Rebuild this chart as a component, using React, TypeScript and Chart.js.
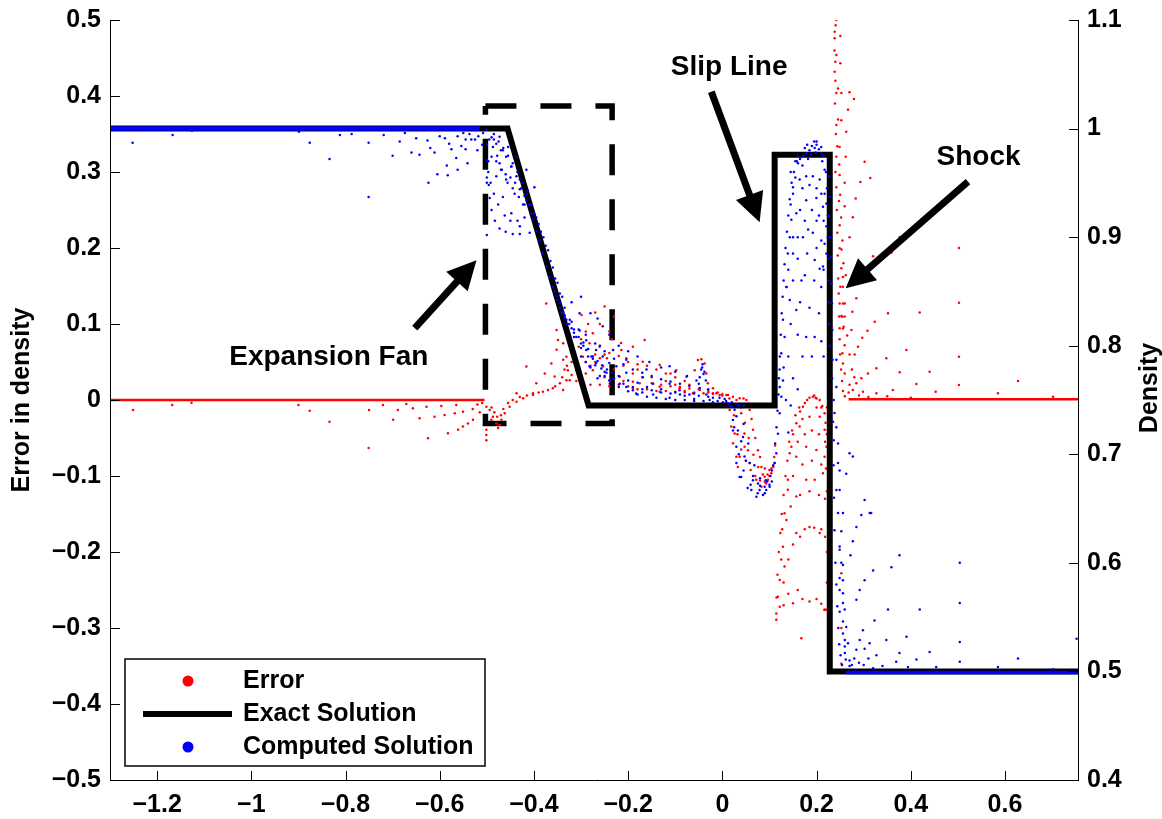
import React, { useEffect, useRef } from "react";
import { Chart, registerables } from "chart.js";

Chart.register(...registerables);

type P = [number, number];

// ---------- axes ----------
const X_MIN = -1.3;
const X_MAX = 0.755;
const ERROR_MIN = -0.5;
const ERROR_MAX = 0.5;
const DENSITY_MIN = 0.4;
const DENSITY_MAX = 1.1;
const xTicks = [-1.2, -1, -0.8, -0.6, -0.4, -0.2, 0, 0.2, 0.4, 0.6];
const errorTicks = [-0.5, -0.4, -0.3, -0.2, -0.1, 0, 0.1, 0.2, 0.3, 0.4, 0.5];
const densityTicks = [0.4, 0.5, 0.6, 0.7, 0.8, 0.9, 1, 1.1];

const legendLabels = ["Error", "Exact Solution", "Computed Solution"];
const errorAxisTitle = "Error in density";
const densityAxisTitle = "Density";

// ---------- exact solution (density axis) ----------
const exactSolution: P[] = [
  [-1.3, 1.0], [-0.456, 1.0], [-0.284, 0.745], [0.111, 0.745],
  [0.111, 0.976], [0.228, 0.976], [0.228, 0.5], [0.755, 0.5],
];

// ---------- computed solution (density axis) ----------
const computedLeftState: P[] = [[-1.3, 1.0], [-0.515, 1.0]];
const computedRightState: P[] = [[0.262, 0.499], [0.755, 0.499]];

const computedHeadFan: P[] = [
  [-1.252, 0.987], [-1.167, 0.994], [-1.126, 0.998], [-0.899, 0.997], [-0.876, 0.987],
  [-0.834, 0.972], [-0.812, 0.994], [-0.787, 0.995], [-0.751, 0.937], [-0.751, 0.987],
  [-0.719, 0.994], [-0.700, 0.975], [-0.685, 0.988], [-0.674, 0.996], [-0.660, 0.978],
  [-0.650, 0.991], [-0.643, 0.976], [-0.626, 0.989], [-0.624, 0.950], [-0.620, 0.982],
  [-0.611, 0.978], [-0.605, 0.958], [-0.600, 0.993], [-0.589, 0.991], [-0.585, 0.966],
  [-0.583, 0.957], [-0.580, 0.986], [-0.575, 0.981], [-0.565, 0.973], [-0.562, 0.962],
  [-0.562, 0.993], [-0.554, 0.984], [-0.550, 0.996], [-0.545, 0.981], [-0.545, 0.990],
  [-0.541, 0.968], [-0.537, 0.995], [-0.533, 0.990], [-0.525, 0.990], [-0.520, 0.980],
  [-0.518, 0.993], [-0.510, 0.985], [-0.508, 0.996], [-0.500, 0.902], [-0.500, 0.950],
  [-0.500, 0.955], [-0.500, 0.971], [-0.500, 0.985],
];

const computedRarefaction: P[] = [
  [-0.501, 0.999], [-0.490, 0.992], [-0.480, 0.986], [-0.470, 0.980], [-0.459, 0.974],
  [-0.448, 0.965], [-0.437, 0.956], [-0.427, 0.945], [-0.416, 0.934], [-0.402, 0.916],
  [-0.395, 0.906], [-0.388, 0.897], [-0.381, 0.885], [-0.374, 0.873], [-0.367, 0.863],
  [-0.360, 0.854], [-0.352, 0.846], [-0.345, 0.839], [-0.338, 0.831], [-0.331, 0.824],
  [-0.320, 0.816], [-0.310, 0.808], [-0.300, 0.802], [-0.289, 0.796], [-0.278, 0.790],
  [-0.268, 0.784], [-0.257, 0.779], [-0.246, 0.775], [-0.232, 0.770], [-0.218, 0.765],
  [-0.204, 0.762], [-0.190, 0.759], [-0.170, 0.757], [-0.147, 0.755],
  [-0.490, 0.974], [-0.480, 0.956], [-0.466, 0.937], [-0.448, 0.922], [-0.430, 0.910], [-0.409, 0.904],
  [-0.487, 0.983], [-0.473, 0.968], [-0.459, 0.953], [-0.441, 0.940], [-0.423, 0.930], [-0.406, 0.922],
  [-0.466, 0.980], [-0.448, 0.965], [-0.430, 0.953], [-0.413, 0.943],
  [-0.473, 0.9925], [-0.455, 0.983], [-0.437, 0.974], [-0.416, 0.962], [-0.399, 0.946],
  [-0.497, 0.970], [-0.497, 0.960], [-0.496, 0.948], [-0.494, 0.936], [-0.490, 0.925],
  [-0.483, 0.915], [-0.473, 0.908], [-0.460, 0.905], [-0.445, 0.903], [-0.430, 0.903],
  [-0.495, 0.990], [-0.485, 0.990], [-0.478, 0.975], [-0.468, 0.962], [-0.456, 0.950],
  [-0.445, 0.945], [-0.432, 0.937], [-0.420, 0.930], [-0.492, 0.950], [-0.485, 0.940],
  [-0.476, 0.930], [-0.462, 0.920], [-0.450, 0.915], [-0.435, 0.915], [-0.420, 0.918],
  [-0.485, 0.995], [-0.475, 0.988], [-0.465, 0.982], [-0.455, 0.975], [-0.445, 0.968],
  [-0.435, 0.960], [-0.425, 0.950], [-0.415, 0.940], [-0.405, 0.930], [-0.395, 0.918],
  [-0.385, 0.905], [-0.375, 0.892], [-0.365, 0.878], [-0.355, 0.862], [-0.345, 0.848],
  [-0.335, 0.835], [-0.480, 0.970], [-0.470, 0.962], [-0.460, 0.958], [-0.450, 0.955],
  [-0.440, 0.950], [-0.430, 0.944], [-0.420, 0.938], [-0.410, 0.930], [-0.400, 0.922],
  [-0.390, 0.912], [-0.380, 0.900], [-0.370, 0.888], [-0.360, 0.872], [-0.350, 0.858],
  [-0.340, 0.845], [-0.355, 0.850], [-0.350, 0.842], [-0.345, 0.835], [-0.340, 0.830],
  [-0.335, 0.826], [-0.325, 0.820], [-0.315, 0.815], [-0.305, 0.808], [-0.295, 0.803],
  [-0.285, 0.797], [-0.275, 0.790], [-0.265, 0.786], [-0.255, 0.782], [-0.245, 0.778],
  [-0.235, 0.775],
];

const computedPlateauCloud: P[] = [
  [-0.324, 0.824], [-0.289, 0.805], [-0.254, 0.790], [-0.204, 0.775], [-0.147, 0.765],
  [-0.091, 0.759], [-0.034, 0.755], [-0.006, 0.752],
  [-0.303, 0.814], [-0.268, 0.796], [-0.225, 0.781], [-0.169, 0.771], [-0.112, 0.765], [-0.048, 0.761],
  [-0.282, 0.781], [-0.239, 0.765], [-0.183, 0.756], [-0.112, 0.752], [-0.060, 0.751],
  [-0.027, 0.750], [0.001, 0.748],
  [-0.303, 0.830], [-0.254, 0.818], [-0.232, 0.796], [-0.204, 0.787], [-0.161, 0.778],
  [-0.112, 0.781], [-0.048, 0.771], [-0.043, 0.780], [-0.040, 0.774],
  [-0.315, 0.812], [-0.295, 0.800], [-0.275, 0.788], [-0.260, 0.800], [-0.240, 0.784],
  [-0.220, 0.772], [-0.200, 0.768], [-0.180, 0.766], [-0.160, 0.762], [-0.130, 0.760],
  [-0.100, 0.757], [-0.080, 0.754], [-0.060, 0.756], [-0.020, 0.752], [-0.010, 0.749],
  [0.005, 0.751], [-0.290, 0.785], [-0.265, 0.770], [-0.250, 0.772],
  [-0.335, 0.828], [-0.320, 0.822], [-0.305, 0.815], [-0.290, 0.810], [-0.270, 0.802],
  [-0.250, 0.795], [-0.230, 0.788], [-0.210, 0.783], [-0.190, 0.778], [-0.170, 0.775],
  [-0.150, 0.772], [-0.130, 0.769], [-0.110, 0.767], [-0.090, 0.765], [-0.070, 0.763],
  [-0.330, 0.820], [-0.315, 0.808], [-0.300, 0.798], [-0.285, 0.790], [-0.270, 0.782],
  [-0.250, 0.776], [-0.230, 0.770], [-0.210, 0.765], [-0.190, 0.762], [-0.170, 0.760],
  [-0.150, 0.759], [-0.130, 0.757], [-0.110, 0.756], [-0.090, 0.755], [-0.070, 0.755],
  [-0.050, 0.754], [-0.030, 0.753],
  [-0.300, 0.790], [-0.280, 0.780], [-0.260, 0.772], [-0.240, 0.768], [-0.220, 0.762],
  [-0.200, 0.758], [-0.180, 0.755], [-0.160, 0.753], [-0.140, 0.752], [-0.120, 0.751],
  [-0.100, 0.750], [-0.080, 0.750], [-0.060, 0.749], [-0.040, 0.749], [-0.020, 0.748],
  [-0.320, 0.840], [-0.300, 0.845], [-0.280, 0.830], [-0.265, 0.825], [-0.240, 0.810],
  [-0.220, 0.800], [-0.200, 0.795], [-0.180, 0.790], [-0.155, 0.785], [-0.130, 0.780],
  [-0.100, 0.776], [-0.075, 0.772], [-0.055, 0.768],
  [-0.050, 0.765], [-0.045, 0.778], [-0.042, 0.783], [-0.038, 0.776], [-0.035, 0.768], [-0.030, 0.760],
];

const computedContact: P[] = [
  [0.008, 0.749], [0.030, 0.746], [0.045, 0.745],
  [0.012, 0.747], [0.0225, 0.7316], [0.0297, 0.707], [0.0367, 0.679], [0.0537, 0.669],
  [0.0722, 0.661], [0.0862, 0.6625], [0.1004, 0.670], [0.111, 0.692], [0.118, 0.719],
  [0.1217, 0.7377], [0.1253, 0.753], [0.1287, 0.768],
  [0.019, 0.744], [0.033, 0.722], [0.047, 0.698], [0.065, 0.676], [0.079, 0.667], [0.093, 0.667],
  [0.026, 0.741], [0.044, 0.716], [0.058, 0.692], [0.0756, 0.673], [0.0898, 0.670],
  [0.0225, 0.722], [0.0297, 0.692], [0.040, 0.679], [0.0616, 0.667],
  [0.015, 0.745], [0.025, 0.725], [0.035, 0.700], [0.045, 0.685], [0.060, 0.672],
  [0.075, 0.664], [0.090, 0.664], [0.100, 0.672],
  [0.020, 0.748], [0.030, 0.735], [0.040, 0.712], [0.050, 0.694], [0.065, 0.680],
  [0.080, 0.671], [0.095, 0.675], [0.105, 0.685],
  [0.035, 0.745], [0.045, 0.728], [0.055, 0.710], [0.068, 0.690], [0.080, 0.678],
  [0.092, 0.676], [0.102, 0.680],
  [0.105, 0.675], [0.108, 0.690], [0.112, 0.710], [0.115, 0.725], [0.117, 0.740],
  [0.119, 0.755], [0.120, 0.770], [0.122, 0.790], [0.124, 0.810], [0.126, 0.830],
  [0.128, 0.845], [0.130, 0.860], [0.132, 0.875], [0.134, 0.890], [0.137, 0.905],
  [0.140, 0.920], [0.143, 0.935], [0.147, 0.950], [0.152, 0.960], [0.158, 0.970],
  [0.1146, 0.701], [0.1217, 0.762], [0.125, 0.793], [0.1287, 0.824], [0.136, 0.854],
  [0.139, 0.885], [0.1465, 0.916], [0.150, 0.946], [0.1605, 0.968], [0.178, 0.977],
  [0.196, 0.982], [0.210, 0.977], [0.217, 0.962], [0.221, 0.931], [0.224, 0.900],
  [0.165, 0.972], [0.172, 0.975], [0.185, 0.980], [0.190, 0.984], [0.200, 0.985],
  [0.205, 0.981], [0.188, 0.976], [0.198, 0.978], [0.212, 0.970], [0.182, 0.972], [0.170, 0.966],
  [0.150, 0.940], [0.164, 0.953], [0.178, 0.956], [0.192, 0.956], [0.2066, 0.953], [0.217, 0.940],
  [0.143, 0.900], [0.157, 0.922], [0.178, 0.934], [0.1996, 0.936], [0.2136, 0.928], [0.221, 0.910],
  [0.136, 0.854], [0.150, 0.885], [0.171, 0.900], [0.192, 0.904], [0.210, 0.897], [0.221, 0.885],
  [0.132, 0.808], [0.157, 0.833], [0.178, 0.808], [0.196, 0.808], [0.210, 0.804],
  [0.196, 0.879], [0.2066, 0.871], [0.182, 0.907], [0.143, 0.842], [0.1217, 0.778],
  [0.217, 0.894], [0.2136, 0.873], [0.210, 0.854], [0.140, 0.870], [0.145, 0.930],
  [0.155, 0.955], [0.160, 0.900], [0.168, 0.860], [0.130, 0.780], [0.135, 0.750], [0.140, 0.720],
  [0.145, 0.960], [0.155, 0.970], [0.160, 0.975], [0.175, 0.982], [0.180, 0.985],
  [0.195, 0.988], [0.200, 0.988], [0.210, 0.983], [0.215, 0.975], [0.220, 0.960],
  [0.222, 0.945], [0.224, 0.920], [0.225, 0.880], [0.225, 0.860], [0.226, 0.840],
  [0.227, 0.820], [0.228, 0.800], [0.170, 0.945], [0.185, 0.948], [0.200, 0.945],
  [0.210, 0.940], [0.165, 0.925], [0.190, 0.925], [0.205, 0.920], [0.215, 0.915],
  [0.150, 0.900], [0.175, 0.915], [0.200, 0.915], [0.160, 0.880], [0.180, 0.885],
  [0.200, 0.890], [0.215, 0.870], [0.150, 0.860], [0.175, 0.865], [0.195, 0.860],
  [0.165, 0.840], [0.185, 0.835], [0.205, 0.830], [0.145, 0.820], [0.160, 0.810],
  [0.170, 0.790], [0.190, 0.790], [0.215, 0.790], [0.140, 0.790], [0.150, 0.770],
  [0.160, 0.760], [0.145, 0.745],
];

const computedShock: P[] = [
  [0.2263, 0.9557], [0.2278, 0.937], [0.2263, 0.919], [0.2293, 0.900], [0.2306, 0.882],
  [0.2314, 0.857], [0.2327, 0.839], [0.2335, 0.8145], [0.234, 0.787], [0.2363, 0.750], [0.2363, 0.713],
  [0.242, 0.762], [0.238, 0.738], [0.242, 0.725], [0.2455, 0.710], [0.249, 0.685],
  [0.242, 0.667], [0.2455, 0.646], [0.2526, 0.629], [0.249, 0.615], [0.2526, 0.600],
  [0.256, 0.584], [0.256, 0.572], [0.2597, 0.557], [0.263, 0.541], [0.2667, 0.526],
  [0.242, 0.787], [0.2455, 0.692], [0.270, 0.701], [0.302, 0.658], [0.316, 0.646],
  [0.249, 0.667], [0.256, 0.646], [0.277, 0.698], [0.263, 0.682], [0.295, 0.644],
  [0.3127, 0.646], [0.2845, 0.633], [0.277, 0.620], [0.320, 0.593],
  [0.249, 0.612], [0.256, 0.598], [0.249, 0.586], [0.249, 0.575], [0.256, 0.563],
  [0.249, 0.555], [0.256, 0.546], [0.256, 0.535], [0.260, 0.529], [0.260, 0.523],
  [0.260, 0.517], [0.262, 0.511],
  [0.272, 0.607], [0.2845, 0.566], [0.2915, 0.575], [0.302, 0.584], [0.359, 0.596],
  [0.376, 0.607], [0.3516, 0.557], [0.419, 0.557], [0.391, 0.532], [0.440, 0.518],
  [0.504, 0.600], [0.504, 0.563], [0.504, 0.527], [0.504, 0.509], [0.6276, 0.512],
  [0.752, 0.530], [0.323, 0.547], [0.2985, 0.538], [0.2915, 0.529], [0.3127, 0.526],
  [0.348, 0.529], [0.376, 0.517], [0.412, 0.511], [0.454, 0.504], [0.2845, 0.520],
  [0.302, 0.521], [0.327, 0.515], [0.369, 0.509], [0.394, 0.504], [0.585, 0.504], [0.702, 0.502],
  [0.270, 0.510], [0.275, 0.506], [0.280, 0.512], [0.290, 0.508], [0.300, 0.506],
  [0.310, 0.512], [0.320, 0.503], [0.340, 0.505], [0.280, 0.500], [0.270, 0.505],
  [0.233, 0.770], [0.235, 0.730], [0.236, 0.690], [0.237, 0.660], [0.238, 0.630],
  [0.240, 0.600], [0.242, 0.580], [0.244, 0.560], [0.246, 0.540], [0.248, 0.525],
  [0.251, 0.515], [0.254, 0.506],
];

// ---------- error (error axis) ----------
const errorLeftState: P[] = [[-1.3, 0], [-0.505, 0]];
const errorRightState: P[] = [[0.268, 0.001], [0.755, 0.001]];

const errorHeadFan: P[] = [
  [-1.251, -0.0132], [-1.168, -0.0066], [-1.127, -0.0035], [-0.900, -0.0066], [-0.876, -0.014],
  [-0.834, -0.0285], [-0.751, -0.063], [-0.750, -0.0132], [-0.7206, -0.0066], [-0.699, -0.026],
  [-0.689, -0.013], [-0.671, -0.0053], [-0.657, -0.011], [-0.6427, -0.024], [-0.628, -0.0088],
  [-0.625, -0.0504], [-0.611, -0.022], [-0.5966, -0.0079], [-0.5896, -0.0197], [-0.5826, -0.0439],
  [-0.568, -0.0175], [-0.565, -0.0066], [-0.561, -0.039], [-0.5507, -0.035], [-0.5507, -0.0154],
  [-0.540, -0.031], [-0.5295, -0.026], [-0.530, -0.012], [-0.520, -0.006], [-0.515, -0.016],
  [-0.510, -0.004], [-0.501, -0.039], [-0.501, -0.046], [-0.501, -0.053], [-0.501, -0.0088],
];

const errorRarefaction: P[] = [
  [-0.494, -0.013], [-0.487, -0.022], [-0.480, -0.031], [-0.476, -0.037], [-0.473, -0.033],
  [-0.469, -0.026], [-0.462, -0.0175], [-0.4516, -0.0088], [-0.437, -0.0022], [-0.423, 0.0022],
  [-0.402, 0.0066], [-0.381, 0.011], [-0.360, 0.0154], [-0.345, 0.022], [-0.4904, -0.026],
  [-0.490, -0.010], [-0.484, -0.016], [-0.478, -0.022], [-0.470, -0.020], [-0.465, -0.012],
  [-0.455, -0.004], [-0.445, 0.0], [-0.430, 0.004], [-0.415, 0.006], [-0.390, 0.010],
  [-0.370, 0.013], [-0.355, 0.018],
  [-0.374, 0.127], [-0.352, 0.066], [-0.349, 0.079], [-0.416, 0.044], [-0.395, 0.022],
  [-0.377, 0.035], [-0.363, 0.048], [-0.356, 0.031], [-0.437, 0.0088], [-0.402, 0.0088],
  [-0.331, 0.026], [-0.328, 0.039], [-0.331, 0.057], [-0.338, 0.0746], [-0.352, 0.092],
  [-0.338, 0.053], [-0.324, 0.026], [-0.310, 0.039], [-0.296, 0.057], [-0.282, 0.0746],
  [-0.275, 0.0877], [-0.299, 0.112], [-0.250, 0.123], [-0.338, 0.013],
  [-0.2605, 0.070], [-0.232, 0.0658], [-0.204, 0.055], [-0.169, 0.0504], [-0.133, 0.046],
  [-0.098, 0.039], [-0.0764, 0.0307], [-0.165, 0.079], [-0.2144, 0.0658],
  [-0.2535, 0.044], [-0.218, 0.0307], [-0.1756, 0.022], [-0.133, 0.0175], [-0.0907, 0.0154],
  [-0.048, 0.013], [-0.0127, 0.0088],
  [-0.275, 0.039], [-0.239, 0.026], [-0.190, 0.0154], [-0.133, 0.011], [-0.0624, 0.0088], [-0.0057, 0.0066],
  [-0.0588, 0.039], [-0.0518, 0.0526], [-0.0446, 0.0535], [-0.0376, 0.048], [-0.034, 0.035],
  [-0.0306, 0.022], [-0.020, 0.0154],
  [-0.290, 0.050], [-0.270, 0.060], [-0.245, 0.055], [-0.230, 0.040], [-0.210, 0.045],
  [-0.190, 0.035], [-0.180, 0.040], [-0.150, 0.030], [-0.120, 0.025], [-0.110, 0.035],
  [-0.100, 0.020], [-0.080, 0.012], [-0.070, 0.020], [-0.030, 0.010], [-0.020, 0.009], [0.0, 0.008],
  [-0.340, 0.030], [-0.335, 0.040], [-0.330, 0.045], [-0.320, 0.050], [-0.315, 0.060],
  [-0.305, 0.070], [-0.300, 0.080], [-0.290, 0.090], [-0.285, 0.100], [-0.320, 0.033],
  [-0.310, 0.025], [-0.300, 0.030], [-0.290, 0.035], [-0.280, 0.045], [-0.270, 0.050],
  [-0.260, 0.055], [-0.250, 0.060], [-0.240, 0.062], [-0.220, 0.058], [-0.200, 0.050],
  [-0.180, 0.047], [-0.160, 0.045], [-0.140, 0.040], [-0.120, 0.035], [-0.100, 0.030],
  [-0.080, 0.025], [-0.280, 0.020], [-0.260, 0.020], [-0.240, 0.018], [-0.220, 0.020],
  [-0.200, 0.018], [-0.180, 0.014], [-0.160, 0.014], [-0.140, 0.012], [-0.120, 0.012],
  [-0.100, 0.011], [-0.080, 0.010], [-0.060, 0.010], [-0.040, 0.009], [-0.020, 0.008],
  [-0.250, 0.030], [-0.230, 0.028], [-0.210, 0.025], [-0.190, 0.024], [-0.170, 0.030],
  [-0.150, 0.022], [-0.130, 0.020], [-0.110, 0.018], [-0.090, 0.017], [-0.070, 0.015],
  [-0.050, 0.014], [-0.030, 0.012], [-0.010, 0.010], [0.000, 0.006], [-0.235, 0.080],
  [-0.215, 0.075], [-0.190, 0.070], [-0.260, 0.100], [-0.240, 0.090], [-0.230, 0.110], [-0.270, 0.115],
];

const errorContact: P[] = [
  [0.0085, 0.0066], [0.0225, 0.0044], [0.0367, 0.0022], [0.0155, -0.013], [0.019, -0.035],
  [0.0225, -0.057], [0.0297, -0.0746], [0.040, -0.0175], [0.047, -0.044], [0.0544, -0.066],
  [0.012, 0.0066], [0.051, 0.0], [0.058, -0.013], [0.065, -0.039], [0.0756, -0.066],
  [0.083, -0.088], [0.0898, -0.101], [0.0968, -0.105], [0.104, -0.0965], [0.111, -0.083],
  [0.026, -0.044], [0.033, -0.088], [0.0367, -0.0746], [0.072, -0.105], [0.083, -0.114],
  [0.093, -0.110], [0.047, -0.0614], [0.058, -0.083], [0.008, -0.004], [0.030, -0.006], [0.050, -0.008],
  [0.015, 0.002], [0.025, -0.020], [0.032, -0.045], [0.040, -0.065], [0.050, -0.080],
  [0.060, -0.092], [0.070, -0.100], [0.080, -0.106], [0.090, -0.108], [0.100, -0.100],
  [0.108, -0.088], [0.030, 0.000], [0.040, -0.010], [0.048, -0.030], [0.056, -0.050],
  [0.066, -0.072], [0.076, -0.088], [0.086, -0.098], [0.096, -0.098], [0.104, -0.090],
  [0.045, 0.002], [0.055, -0.005], [0.062, -0.025], [0.070, -0.050], [0.080, -0.075],
  [0.090, -0.090], [0.100, -0.092], [0.110, -0.075], [0.112, -0.060],
  [0.1146, -0.289], [0.1217, -0.237], [0.1287, -0.193], [0.132, -0.149], [0.139, -0.105],
  [0.1465, -0.0614], [0.157, -0.0307], [0.171, -0.0088], [0.192, 0.0044], [0.2066, 0.0],
  [0.217, -0.0175], [0.221, -0.0614], [0.143, -0.070], [0.164, -0.035], [0.185, -0.022],
  [0.2066, -0.022], [0.217, -0.039], [0.139, -0.118], [0.157, -0.0746], [0.178, -0.0614],
  [0.1996, -0.0658], [0.217, -0.0746], [0.136, -0.158], [0.157, -0.127], [0.178, -0.105],
  [0.196, -0.105], [0.2136, -0.0965], [0.132, -0.219], [0.157, -0.175], [0.185, -0.167],
  [0.2066, -0.175], [0.1217, -0.272], [0.150, -0.2675], [0.185, -0.265], [0.217, -0.276],
  [0.1677, -0.3136], [0.1146, -0.281], [0.118, -0.259], [0.180, 0.0], [0.195, 0.006],
  [0.200, 0.002], [0.175, -0.004], [0.165, -0.015], [0.150, -0.045], [0.125, -0.210], [0.127, -0.170],
  [0.115, -0.260], [0.117, -0.230], [0.120, -0.200], [0.123, -0.175], [0.126, -0.150],
  [0.130, -0.125], [0.134, -0.100], [0.138, -0.080], [0.142, -0.055], [0.148, -0.040],
  [0.155, -0.020], [0.163, -0.010], [0.185, 0.003], [0.198, 0.003], [0.212, -0.008],
  [0.219, -0.030], [0.222, -0.045],
  [0.130, -0.240], [0.140, -0.210], [0.150, -0.190], [0.165, -0.180], [0.175, -0.170],
  [0.195, -0.168], [0.210, -0.170], [0.218, -0.180], [0.222, -0.200],
  [0.130, -0.270], [0.140, -0.255], [0.160, -0.250], [0.170, -0.262], [0.200, -0.262],
  [0.210, -0.268], [0.222, -0.240],
  [0.145, -0.140], [0.165, -0.125], [0.185, -0.120], [0.205, -0.125], [0.218, -0.130], [0.222, -0.120],
  [0.150, -0.100], [0.170, -0.085], [0.190, -0.080], [0.210, -0.085], [0.220, -0.090],
  [0.160, -0.055], [0.175, -0.045], [0.190, -0.040], [0.205, -0.045], [0.218, -0.055],
  [0.170, -0.025], [0.200, -0.010], [0.210, -0.010],
];

const errorShock: P[] = [
  [0.242, 0.5], [0.2405, 0.493], [0.2384, 0.4846], [0.2505, 0.479], [0.2384, 0.476],
  [0.242, 0.454], [0.2399, 0.445], [0.2505, 0.443], [0.2384, 0.432], [0.2455, 0.410],
  [0.242, 0.404], [0.2526, 0.404], [0.270, 0.405], [0.2795, 0.396], [0.2667, 0.382],
  [0.2455, 0.369], [0.2526, 0.368], [0.242, 0.362], [0.263, 0.353], [0.244, 0.334],
  [0.249, 0.333], [0.2618, 0.320], [0.242, 0.320], [0.302, 0.3136], [0.249, 0.296],
  [0.2597, 0.286], [0.293, 0.287], [0.314, 0.292], [0.2476, 0.262], [0.2597, 0.255],
  [0.283, 0.265], [0.277, 0.2404], [0.249, 0.230], [0.270, 0.214], [0.249, 0.1996],
  [0.253, 0.198], [0.320, 0.189], [0.2526, 0.1733], [0.256, 0.162], [0.262, 0.164],
  [0.2505, 0.149], [0.2845, 0.134], [0.249, 0.127], [0.256, 0.127], [0.276, 0.116],
  [0.3516, 0.114], [0.2526, 0.1105], [0.2597, 0.110], [0.3234, 0.103], [0.249, 0.0943],
  [0.256, 0.094], [0.274, 0.092],
  [0.3765, 0.2145], [0.359, 0.194], [0.5023, 0.200], [0.419, 0.115], [0.5023, 0.128],
  [0.308, 0.0912], [0.297, 0.082], [0.288, 0.070], [0.281, 0.060], [0.3906, 0.0658],
  [0.348, 0.0548], [0.5023, 0.057], [0.327, 0.0417], [0.309, 0.035], [0.295, 0.0285],
  [0.2845, 0.022], [0.440, 0.0373], [0.3765, 0.0364], [0.412, 0.021], [0.5023, 0.0197],
  [0.6276, 0.025], [0.585, 0.0088], [0.702, 0.0044], [0.4529, 0.011], [0.362, 0.013],
  [0.327, 0.0088], [0.2985, 0.011], [0.277, 0.013], [0.2597, 0.035], [0.256, 0.048],
  [0.2548, 0.0614], [0.2597, 0.072], [0.2576, 0.0965], [0.2548, 0.1096], [0.2597, 0.127],
  [0.256, 0.149], [0.265, 0.085], [0.270, 0.060], [0.275, 0.040], [0.280, 0.030],
  [0.270, 0.020], [0.268, 0.010], [0.290, 0.006], [0.310, 0.004], [0.350, 0.005], [0.400, 0.003],
  [0.238, 0.460], [0.240, 0.420], [0.239, 0.390], [0.241, 0.350], [0.240, 0.300],
  [0.242, 0.280], [0.243, 0.250], [0.244, 0.220], [0.245, 0.190], [0.246, 0.160],
  [0.247, 0.140], [0.248, 0.110], [0.249, 0.080], [0.250, 0.060], [0.252, 0.040],
  [0.254, 0.025], [0.256, 0.012], [0.260, 0.005], [0.248, 0.310], [0.250, 0.270],
  [0.252, 0.240], [0.255, 0.210], [0.257, 0.180],
  [0.2526, -0.228], [0.217, -0.276], [0.2526, -0.300], [0.2526, -0.347], [0.221, -0.276],
  [0.225, -0.020], [0.228, -0.050], [0.224, -0.040], [0.222, -0.010],
];

// ---------- annotations (x, error-axis y) ----------
const zoomBoxX = [-0.503, -0.234, -0.234, -0.503, -0.503];
const zoomBoxY = [0.387, 0.387, -0.031, -0.031, 0.387];
const annotationLabels = ["Expansion Fan", "Slip Line", "Shock"];
const annotationLabelX = [-0.8355, 0.0144, 0.544];
const annotationLabelY = [0.0557, 0.438, 0.319];
const arrowTailX = [-0.653, -0.0234, 0.5215];
const arrowTailY = [0.0947, 0.4057, 0.2872];
const arrowTipX = [-0.522, 0.0791, 0.2618];
const arrowTipY = [0.184, 0.234, 0.147];

const FONT = '"Liberation Sans", Arial, Helvetica, sans-serif';
const RED = "#ff0000";
const BLUE = "#0000ff";

const toXY = (pts: P[]) => pts.map(([x, y]) => ({ x, y }));
const fmt = (v: number) => {
  const r = Math.round(v * 10) / 10;
  return (r === 0 ? "0" : String(r)).replace("-", "\u2212");
};

function drawArrow(ctx: CanvasRenderingContext2D, x0: number, y0: number, x1: number, y1: number) {
  const a = Math.atan2(y1 - y0, x1 - x0);
  const headLen = 29;
  const headHalf = 14.5;
  const bx = x1 - headLen * Math.cos(a);
  const by = y1 - headLen * Math.sin(a);
  ctx.lineWidth = 7;
  ctx.lineCap = "butt";
  ctx.beginPath();
  ctx.moveTo(x0, y0);
  ctx.lineTo(bx + 2 * Math.cos(a), by + 2 * Math.sin(a));
  ctx.stroke();
  ctx.beginPath();
  ctx.moveTo(x1, y1);
  ctx.lineTo(bx + headHalf * Math.sin(a), by - headHalf * Math.cos(a));
  ctx.lineTo(bx - headHalf * Math.sin(a), by + headHalf * Math.cos(a));
  ctx.closePath();
  ctx.fill();
}

const overlayPlugin = {
  id: "overlay",
  afterDatasetsDraw(chart: any) {
    const { ctx, chartArea, scales } = chart;
    const { left, right, top, bottom } = chartArea;
    const sx = scales.x;
    const sy = scales.y;
    const sy1 = scales.y1;
    ctx.save();
    ctx.strokeStyle = "#000";
    ctx.fillStyle = "#000";
    ctx.lineWidth = 1;
    ctx.beginPath();
    ctx.moveTo(left + 0.5, top);
    ctx.lineTo(left + 0.5, bottom + 0.5);
    ctx.lineTo(right + 0.5, bottom + 0.5);
    ctx.lineTo(right + 0.5, top);
    ctx.stroke();
    ctx.beginPath();
    for (const v of errorTicks) {
      const py = Math.round(sy.getPixelForValue(v)) + 0.5;
      ctx.moveTo(left, py);
      ctx.lineTo(left + 10, py);
    }
    for (const v of densityTicks) {
      const py = Math.round(sy1.getPixelForValue(v)) + 0.5;
      ctx.moveTo(right + 1, py);
      ctx.lineTo(right - 9, py);
    }
    for (const v of xTicks) {
      const px = Math.round(sx.getPixelForValue(v)) + 0.5;
      ctx.moveTo(px, bottom + 1);
      ctx.lineTo(px, bottom - 9);
    }
    ctx.stroke();

    for (let i = 0; i < annotationLabels.length; i++) {
      drawArrow(
        ctx,
        sx.getPixelForValue(arrowTailX[i]), sy.getPixelForValue(arrowTailY[i]),
        sx.getPixelForValue(arrowTipX[i]), sy.getPixelForValue(arrowTipY[i])
      );
      ctx.font = `bold 28px ${FONT}`;
      ctx.textAlign = "center";
      ctx.textBaseline = "middle";
      ctx.fillText(annotationLabels[i], sx.getPixelForValue(annotationLabelX[i]), sy.getPixelForValue(annotationLabelY[i]));
    }

    ctx.font = `bold 25px ${FONT}`;
    ctx.textAlign = "center";
    ctx.textBaseline = "middle";
    ctx.save();
    ctx.translate(22, (top + bottom) / 2);
    ctx.rotate(-Math.PI / 2);
    ctx.fillText(errorAxisTitle, 0, 0);
    ctx.restore();
    ctx.save();
    ctx.translate(1150, (top + bottom) / 2 - 12);
    ctx.rotate(-Math.PI / 2);
    ctx.fillText(densityAxisTitle, 0, 0);
    ctx.restore();

    const lx = left + 15;
    const ly = bottom - 121;
    const lw = 360;
    const lh = 107;
    ctx.fillStyle = "#fff";
    ctx.fillRect(lx, ly, lw, lh);
    ctx.strokeStyle = "#000";
    ctx.lineWidth = 1.5;
    ctx.strokeRect(lx, ly, lw, lh);
    const rowY = [ly + 22, ly + 55, ly + 88];
    ctx.fillStyle = RED;
    ctx.beginPath();
    ctx.arc(lx + 63, rowY[0], 5.5, 0, Math.PI * 2);
    ctx.fill();
    ctx.strokeStyle = "#000";
    ctx.lineWidth = 6;
    ctx.beginPath();
    ctx.moveTo(lx + 18, rowY[1]);
    ctx.lineTo(lx + 107, rowY[1]);
    ctx.stroke();
    ctx.fillStyle = BLUE;
    ctx.beginPath();
    ctx.arc(lx + 63, rowY[2], 5.5, 0, Math.PI * 2);
    ctx.fill();
    ctx.fillStyle = "#000";
    ctx.font = `bold 25px ${FONT}`;
    ctx.textAlign = "left";
    ctx.textBaseline = "middle";
    legendLabels.forEach((t, i) => ctx.fillText(t, lx + 118, rowY[i]));
    ctx.restore();
  },
};

const pointDs = (data: P[], color: string, axis: string, order: number) => ({
  data: toXY(data),
  yAxisID: axis,
  showLine: false,
  pointRadius: 1.25,
  pointHoverRadius: 1.25,
  pointBorderWidth: 0,
  pointBackgroundColor: color,
  borderColor: color,
  order,
});

const lineDs = (data: P[], color: string, axis: string, width: number, order: number, dash?: number[]) => ({
  data: toXY(data),
  yAxisID: axis,
  showLine: true,
  pointRadius: 0,
  pointHoverRadius: 0,
  borderColor: color,
  borderWidth: width,
  borderDash: dash || [],
  borderJoinStyle: "miter" as const,
  borderCapStyle: "butt" as const,
  fill: false,
  tension: 0,
  order,
});

const tickFont = { family: FONT, size: 25, weight: "bold" };

export default function App() {
  const ref = useRef<HTMLCanvasElement>(null);
  useEffect(() => {
    const zoomBox: P[] = zoomBoxX.map((x, i) => [x, zoomBoxY[i]]);
    const chart = new Chart(ref.current!, {
      type: "scatter",
      data: {
        datasets: [
          pointDs([...computedHeadFan, ...computedRarefaction, ...computedPlateauCloud, ...computedContact, ...computedShock], BLUE, "y1", 0),
          lineDs(computedLeftState, BLUE, "y1", 4.5, 1),
          lineDs(computedRightState, BLUE, "y1", 3.5, 1),
          lineDs(exactSolution, "#000", "y1", 6, 2),
          pointDs([...errorHeadFan, ...errorRarefaction, ...errorContact, ...errorShock], RED, "y", 3),
          lineDs(errorLeftState, RED, "y", 2.5, 4),
          lineDs(errorRightState, RED, "y", 2.5, 4),
          lineDs(zoomBox, "#000", "y", 5.5, 5, [31, 24]),
        ] as any,
      },
      options: {
        responsive: false,
        maintainAspectRatio: false,
        devicePixelRatio: 1,
        animation: false,
        events: [],
        layout: { padding: { top: 20, left: 0, right: 0, bottom: 0 } },
        plugins: { legend: { display: false }, tooltip: { enabled: false } },
        scales: {
          x: {
            type: "linear",
            position: "bottom",
            min: X_MIN,
            max: X_MAX,
            grid: { display: false, drawTicks: false, tickLength: 0 },
            border: { display: false },
            afterBuildTicks: (s: any) => { s.ticks = xTicks.map((value) => ({ value })); },
            afterFit: (s: any) => { s.height = 39; s.paddingLeft = 0; s.paddingRight = 0; },
            ticks: {
              padding: 10,
              maxRotation: 0,
              autoSkip: false,
              color: "#000",
              font: tickFont,
              callback: (v: any) => fmt(Number(v)),
            },
          },
          y: {
            type: "linear",
            position: "left",
            min: ERROR_MIN,
            max: ERROR_MAX,
            grid: { display: false, drawTicks: false, tickLength: 0 },
            border: { display: false },
            afterBuildTicks: (s: any) => { s.ticks = errorTicks.map((value) => ({ value })); },
            afterFit: (s: any) => { s.width = 110; s.paddingTop = 0; s.paddingBottom = 0; },
            ticks: {
              padding: 9,
              autoSkip: false,
              color: "#000",
              font: tickFont,
              callback: (v: any) => fmt(Number(v)),
            },
          },
          y1: {
            type: "linear",
            position: "right",
            min: DENSITY_MIN,
            max: DENSITY_MAX,
            grid: { display: false, drawTicks: false, tickLength: 0 },
            border: { display: false },
            afterBuildTicks: (s: any) => { s.ticks = densityTicks.map((value) => ({ value })); },
            afterFit: (s: any) => { s.width = 84; s.paddingTop = 0; s.paddingBottom = 0; },
            ticks: {
              padding: 9,
              autoSkip: false,
              color: "#000",
              font: tickFont,
              callback: (v: any) => fmt(Number(v)),
            },
          },
        },
      } as any,
      plugins: [overlayPlugin],
    });
    return () => chart.destroy();
  }, []);

  return (
    <div style={{ position: "fixed", left: 0, top: 0, width: 1162, height: 819, background: "#fff" }}>
      <canvas ref={ref} width={1162} height={819} style={{ display: "block", width: 1162, height: 819 }} />
    </div>
  );
}
